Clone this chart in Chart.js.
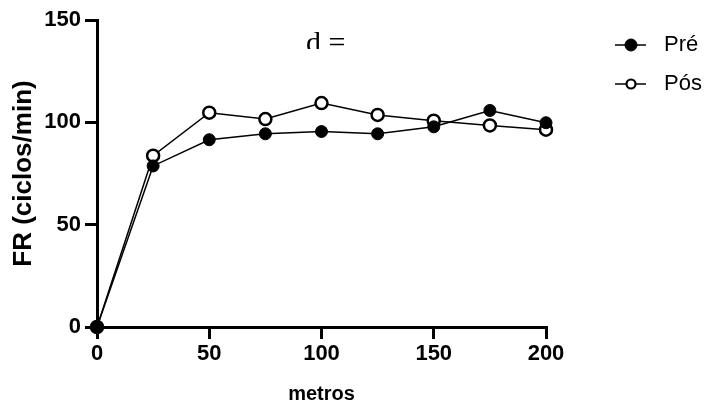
<!DOCTYPE html>
<html>
<head>
<meta charset="utf-8">
<script src="https://cdn.jsdelivr.net/npm/chart.js@4"></script>
<style>
  html, body { margin: 0; padding: 0; background: #fff; }
  #wrap { width: 709px; height: 405px; }
</style>
</head>
<body>
<div id="wrap"><canvas id="frChart"></canvas></div>
<script>
const metros = [0, 25, 50, 75, 100, 125, 150, 175, 200]
const pre = [0, 78.7, 91.5, 94.4, 95.5, 94.4, 97.8, 105.8, 99.8]
const pos = [0, 83.7, 104.7, 101.6, 109.4, 103.6, 100.8, 98.5, 96.4]
const xTicks = [0, 50, 100, 150, 200]
const yTicks = [0, 50, 100, 150]

const FONT = "'Liberation Sans', Arial, sans-serif"

// legend with a line through the marker, plus the "d =" note (cut off at the bottom, as in the original)
const extras = {
  id: "extras",
  afterDraw(chart) {
    const ctx = chart.ctx
    const area = chart.chartArea
    ctx.save()
    ctx.beginPath()
    ctx.rect(area.left + 100, 0, 300, 49)
    ctx.clip()
    ctx.fillStyle = "#000"
    ctx.font = "30px 'Liberation Serif', 'Times New Roman', serif"
    ctx.textAlign = "left"
    ctx.textBaseline = "alphabetic"
    ctx.fillText("d =", 306, 52)
    ctx.restore()

    ctx.save()
    const items = [
      { label: "Pré", fill: "#000", r: 6, w: 1 },
      { label: "Pós", fill: "#fff", r: 4.5, w: 2.2 },
    ]
    items.forEach((it, i) => {
      const y = 45 + i * 39
      ctx.strokeStyle = "#000"
      ctx.lineWidth = 1.5
      ctx.beginPath()
      ctx.moveTo(615, y)
      ctx.lineTo(646, y)
      ctx.stroke()
      ctx.beginPath()
      ctx.arc(631, y, it.r, 0, Math.PI * 2)
      ctx.fillStyle = it.fill
      ctx.fill()
      ctx.lineWidth = it.w
      ctx.stroke()
      ctx.fillStyle = "#000"
      ctx.font = "22px " + FONT
      ctx.textAlign = "left"
      ctx.textBaseline = "middle"
      ctx.fillText(it.label, 664, y)
    })
    ctx.restore()
  },
}

function createFrChart() {
  const data = {
    datasets: [
      {
        label: "Pré",
        data: metros.map((m, i) => ({ x: m, y: pre[i] })),
        borderColor: "#000",
        backgroundColor: "#000",
        borderWidth: 1.5,
        pointRadius: 6,
        pointBorderWidth: 1,
        pointBackgroundColor: "#000",
        order: 1,
      },
      {
        label: "Pós",
        data: metros.map((m, i) => ({ x: m, y: pos[i] })),
        borderColor: "#000",
        backgroundColor: "#fff",
        borderWidth: 1.5,
        pointRadius: 6,
        pointBorderWidth: 2.5,
        pointBackgroundColor: "#fff",
        order: 2,
      },
    ],
  }

  const config = {
    type: "line",
    data: data,
    plugins: [extras],
    options: {
      responsive: false,
      animation: false,
      clip: false,
      layout: { padding: { top: 20, right: 163, bottom: 0, left: 0 } },
      plugins: {
        legend: false,
        tooltip: { enabled: false },
      },
      scales: {
        x: {
          type: "linear",
          min: 0,
          max: 200,
          afterBuildTicks: (s) => { s.ticks = xTicks.map((v) => ({ value: v })) },
          afterFit: (s) => { s.height = 78 },
          border: { display: true, color: "#000", width: 3 },
          grid: { drawOnChartArea: false, color: "#000", lineWidth: 3, tickLength: 12 },
          ticks: { color: "#000", padding: 2, font: { family: FONT, size: 22, weight: "bold" } },
          title: {
            display: true,
            text: "metros",
            color: "#000",
            padding: { top: 0, bottom: 0 },
            font: { family: FONT, size: 20, weight: "bold", lineHeight: 1.1 },
          },
        },
        y: {
          min: 0,
          max: 150,
          afterBuildTicks: (s) => { s.ticks = yTicks.map((v) => ({ value: v })) },
          afterFit: (s) => { s.width = 97 },
          border: { display: true, color: "#000", width: 3 },
          grid: { drawOnChartArea: false, color: "#000", lineWidth: 3, tickLength: 12 },
          ticks: { color: "#000", padding: 4, font: { family: FONT, size: 22, weight: "bold" } },
          title: {
            display: true,
            text: "FR (ciclos/min)",
            color: "#000",
            padding: { top: 8 },
            font: { family: FONT, size: 26, weight: "bold" },
          },
        },
      },
    },
  }

  const canvas = document.getElementById("frChart")
  canvas.width = 709
  canvas.height = 405
  new Chart(canvas, config)
}

document.addEventListener("DOMContentLoaded", () => {
  createFrChart()
})
</script>
</body>
</html>
